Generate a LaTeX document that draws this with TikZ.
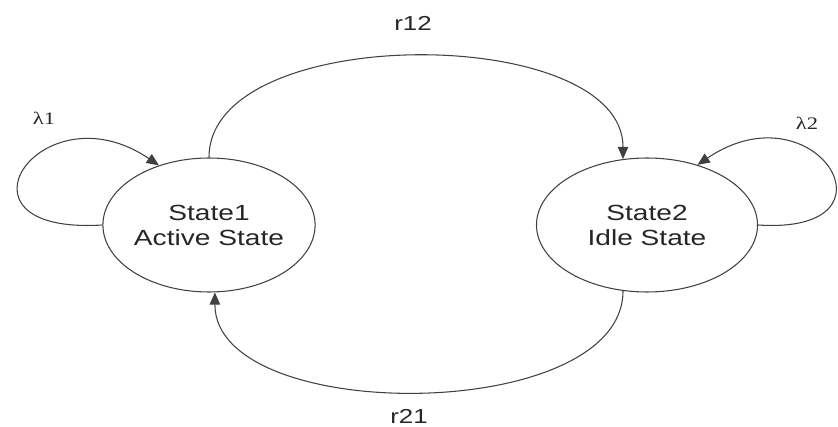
\documentclass[tikz,border=0pt]{standalone}
\usepackage{graphicx}
\usepackage{fontspec}
\setmainfont{Liberation Sans}
\newfontfamily\lamfont{Liberation Serif}
\usetikzlibrary{shapes.geometric,arrows.meta}
\newcommand{\widen}[1]{\scalebox{1.28}[1]{#1}}

\begin{document}
\begin{tikzpicture}[
  state/.style={ellipse,draw=black!75,line width=0.6pt,inner sep=0pt,
    minimum height=2.68cm,align=center,text=black!85,
    font=\fontsize{12.5}{14.2}\selectfont},
  trans/.style={draw=black!75,line width=0.6pt,-{Triangle[length=7pt,width=6pt]}},
  lbl/.style={text=black!85,font=\fontsize{11.5}{14}\selectfont},
  lam/.style={text=black!85,font=\lamfont\fontsize{10}{12}\selectfont}]
  \useasboundingbox (0,0) rectangle (16.76,8.54);

  \node[state,minimum width=4.24cm] (s1) at (4.18,4.04) {\widen{State1}\\\widen{Active State}};
  \node[state,minimum width=4.42cm] (s2) at (12.94,4.04) {\widen{State2}\\\widen{Idle State}};

%%%%%%%%%%%%%%%%%%%%%%%%
  \draw[trans] (s1.north) .. controls +(0,2.72) and +(0,2.72) .. (s2.110);
  \draw[trans] (s2.250) .. controls +(0,-2.67) and +(0,-2.67) .. (s1.275);
  \node[lbl] (r12) at (8.26,8.08) {\widen{r12}};
  \node[lbl] (r21) at (8.18,0.22) {\widen{r21}};

%%%%%%%%%%%%%%%%%%%%%%%%
  \draw[trans] (s1.west) .. controls +(-3.26,-0.2) and +(-2.36,1.6) .. (s1.130);
  \draw[trans] (s2.east) .. controls +(3.0,-0.2) and +(2.36,1.6) .. (s2.50);
  \node[lam] (l1) at (0.88,6.18) {\widen{λ1}};
  \node[lam] (l2) at (16.14,6.08) {\widen{λ2}};
\end{tikzpicture}
\end{document}
